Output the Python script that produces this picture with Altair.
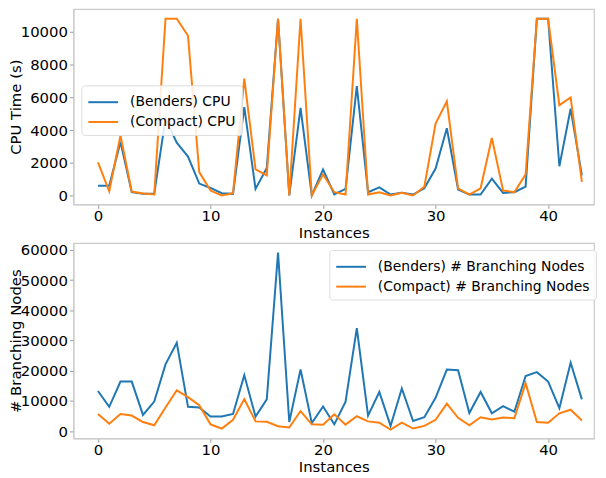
import altair as alt
import pandas as pd

instances = list(range(44))

benders_cpu = [600, 600, 3270, 200, 100, 100, 4700, 3230, 2380, 730, 460, 140, 100, 5400, 400, 1680,
               10800, 0, 5360, 0, 1590, 60, 400, 6690, 200, 500, 60, 160, 60, 440, 1650, 4110, 360, 60,
               60, 1030, 160, 200, 540, 10800, 10800, 1790, 5300, 1230]
compact_cpu = [2020, 260, 3670, 240, 120, 60, 10800, 10800, 9760, 1430, 300, 0, 140, 7140, 1590, 1230,
               10800, 0, 10800, 0, 1290, 200, 60, 10800, 60, 200, 0, 160, 0, 540, 4400, 5750, 440, 60,
               440, 3510, 300, 200, 1290, 10800, 10800, 5520, 5990, 830]

benders_nodes = [13330, 8080, 16440, 16440, 5400, 9800, 22120, 29300, 8080, 7870, 4870, 4870, 5720, 18580,
                 4870, 10550, 59100, 3040, 20410, 2720, 8190, 2290, 9800, 34120, 5190, 13000, 1760, 14190,
                 3370, 4650, 11080, 20410, 20190, 6040, 13000, 5930, 8290, 6470, 18260, 19550, 16440, 7650,
                 22660, 10550]
compact_nodes = [5720, 2510, 5720, 5190, 3040, 1970, 7870, 13550, 11300, 8620, 2290, 900, 3790, 10650,
                 3260, 3150, 1650, 1220, 6690, 2290, 2190, 5620, 2190, 4970, 3260, 2830, 580, 2830, 900,
                 1760, 3790, 9150, 4440, 1970, 4650, 3900, 4540, 4330, 15900, 3040, 2830, 5930, 7120, 3580]

labels_cpu = ["(Benders) CPU", "(Compact) CPU"]
labels_nodes = ["(Benders) # Branching Nodes", "(Compact) # Branching Nodes"]
colors = ["#1f77b4", "#ff7f0e"]
x_ticks = [0, 10, 20, 30, 40]
cpu_ticks = [0, 2000, 4000, 6000, 8000, 10000]
node_ticks = [0, 10000, 20000, 30000, 40000, 50000, 60000]

FONT = "DejaVu Sans"
FS = 15
LFS = 14


def long_df(a, b, labels):
    n = len(instances)
    return pd.DataFrame({
        "x": instances * 2,
        "y": a + b,
        "series": [labels[0]] * n + [labels[1]] * n,
        "k": [0] * n + [1] * n,
    })


def panel(df, labels, ytitle, ydom, yticks, lx, ly):
    return alt.Chart(df).mark_line(strokeWidth=2, clip=True).encode(
        x=alt.X("x:Q", title="Instances",
                scale=alt.Scale(domain=[-2.18, 44.08], nice=False, zero=False),
                axis=alt.Axis(values=x_ticks, format="d", tickSize=4, labelPadding=0,
                              titlePadding=2.5)),
        y=alt.Y("y:Q", title=ytitle,
                scale=alt.Scale(domain=ydom, nice=False, zero=False),
                axis=alt.Axis(values=yticks, format="d", tickSize=4, labelPadding=2,
                              titleX=-50)),
        color=alt.Color("series:N",
                        scale=alt.Scale(domain=labels, range=colors),
                        legend=alt.Legend(title=None, orient="none", legendX=lx, legendY=ly,
                                          symbolType="M-1.5,0H1.5", symbolSize=400,
                                          symbolOffset=5,
                                          symbolStrokeWidth=2, labelFontSize=LFS, labelFont=FONT,
                                          labelColor="#000000", labelOffset=16, rowPadding=2,
                                          labelLimit=400,
                                          fillColor="rgba(255,255,255,0.85)", strokeColor="#dddddd",
                                          cornerRadius=3, padding=6)),
        order=alt.Order("k:Q"),
    ).properties(width=525, height=197)


top = panel(long_df(benders_cpu, compact_cpu, labels_cpu), labels_cpu, "CPU Time (s)",
            [-540, 11400], cpu_ticks, 8, 77)
bottom = panel(long_df(benders_nodes, compact_nodes, labels_nodes), labels_nodes, "# Branching Nodes",
               [-2350, 62300], node_ticks, 258, 7)

chart = alt.vconcat(top, bottom, spacing=0).resolve_scale(color="independent").properties(
    padding={"left": 0, "top": -2, "right": 0, "bottom": 0}
).configure_view(stroke="#cccccc", strokeWidth=1.2).configure_axis(
    grid=False, domainColor="#cccccc", domainWidth=1.2, tickColor="#999999",
    labelFont=FONT, labelFontSize=FS, labelColor="#000000",
    titleFont=FONT, titleFontSize=FS, titleFontWeight="normal", titleColor="#000000",
    labelFlush=False
)

chart.save("out.html", embed_options={"renderer": "svg", "actions": False})
